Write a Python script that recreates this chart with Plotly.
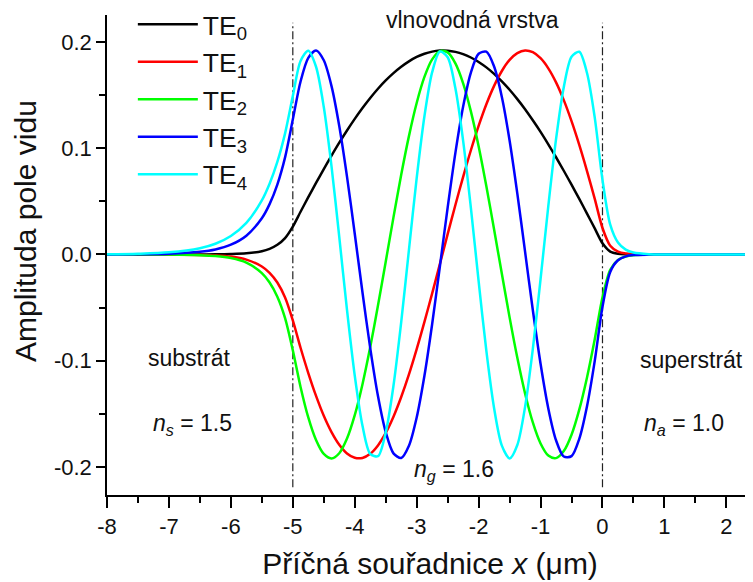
import plotly.graph_objects as go

# x grid (µm): substrate tail, guiding layer (-5..0), superstrate tail
x_pos = [-8, -7.5, -7, -6.5, -6.25, -6, -5.75, -5.5, -5.375, -5.25, -5.125,
         -5.0, -4.875, -4.75, -4.625, -4.5, -4.375, -4.25, -4.125, -4.0, -3.875,
         -3.75, -3.625, -3.5, -3.375, -3.25, -3.125, -3.0, -2.875, -2.75, -2.625,
         -2.5, -2.375, -2.25, -2.125, -2.0, -1.875, -1.75, -1.625, -1.5, -1.375,
         -1.25, -1.125, -1.0, -0.875, -0.75, -0.625, -0.5, -0.375, -0.25, -0.125,
         0.0, 0.125, 0.25, 0.375, 0.5, 0.75, 1.0, 1.5, 2.0, 2.5]

te0 = [0, 0, 0, 0, 0.0001, 0.0004, 0.0011, 0.0031, 0.0053, 0.0091, 0.0154,
       0.0262, 0.0402, 0.0539, 0.0673, 0.0804, 0.0930, 0.1052, 0.1167, 0.1276, 0.1378,
       0.1473, 0.1560, 0.1638, 0.1707, 0.1767, 0.1818, 0.1859, 0.1889, 0.1909, 0.1919,
       0.1918, 0.1907, 0.1886, 0.1854, 0.1812, 0.1761, 0.1700, 0.1629, 0.1550, 0.1462,
       0.1367, 0.1263, 0.1154, 0.1037, 0.0915, 0.0788, 0.0657, 0.0523, 0.0385, 0.0245,
       0.0105, 0.0027, 0.0007, 0.0002, 0, 0, 0, 0, 0, 0]

te1 = [0, 0, -0.0001, -0.0004, -0.0009, -0.0020, -0.0048, -0.0113, -0.0173, -0.0264, -0.0405,
       -0.0620, -0.0878, -0.1116, -0.1331, -0.1518, -0.1672, -0.1791, -0.1873, -0.1914, -0.1915,
       -0.1876, -0.1797, -0.1680, -0.1527, -0.1342, -0.1129, -0.0891, -0.0635, -0.0366, -0.0089,
       0.0191, 0.0466, 0.0731, 0.0981, 0.1210, 0.1414, 0.1587, 0.1727, 0.1831, 0.1895,
       0.1920, 0.1904, 0.1847, 0.1752, 0.1620, 0.1453, 0.1255, 0.1031, 0.0785, 0.0523,
       0.0249, 0.0082, 0.0027, 0.0009, 0.0003, 0, 0, 0, 0, 0]

te2 = [0, 0, -0.0001, -0.0007, -0.0015, -0.0034, -0.0077, -0.0175, -0.0264, -0.0397, -0.0599,
       -0.0902, -0.1247, -0.1534, -0.1747, -0.1878, -0.1920, -0.1871, -0.1733, -0.1513, -0.1221,
       -0.0872, -0.0481, -0.0068, 0.0349, 0.0750, 0.1114, 0.1426, 0.1671, 0.1836, 0.1914,
       0.1902, 0.1799, 0.1611, 0.1347, 0.1019, 0.0642, 0.0235, -0.0182, -0.0592, -0.0973,
       -0.1308, -0.1581, -0.1779, -0.1893, -0.1917, -0.1851, -0.1697, -0.1461, -0.1158, -0.0799,
       -0.0402, -0.0145, -0.0052, -0.0019, -0.0007, -0.0001, 0, 0, 0, 0]

te3 = [0, 0.0002, 0.0007, 0.0025, 0.0047, 0.0092, 0.0177, 0.0341, 0.0474, 0.0658, 0.0914,
       0.1270, 0.1628, 0.1851, 0.1920, 0.1828, 0.1585, 0.1209, 0.0733, 0.0195, -0.0358,
       -0.0882, -0.1333, -0.1672, -0.1872, -0.1916, -0.1801, -0.1535, -0.1142, -0.0654, -0.0111,
       0.0441, 0.0956, 0.1392, 0.1712, 0.1889, 0.1909, 0.1769, 0.1483, 0.1073, 0.0573,
       0.0026, -0.0523, -0.1029, -0.1449, -0.1749, -0.1902, -0.1898, -0.1735, -0.1428, -0.1001,
       -0.0492, -0.0164, -0.0055, -0.0018, -0.0006, -0.0001, 0, 0, 0, 0]

te4 = [0.0002, 0.0007, 0.0020, 0.0059, 0.0101, 0.0174, 0.0297, 0.0509, 0.0666, 0.0871, 0.1140,
       0.1491, 0.1822, 0.1918, 0.1767, 0.1388, 0.0830, 0.0165, -0.0522, -0.1141, -0.1613,
       -0.1877, -0.1899, -0.1676, -0.1236, -0.0637, 0.0043, 0.0718, 0.1301, 0.1716, 0.1910,
       0.1857, 0.1564, 0.1070, 0.0438, -0.0251, -0.0908, -0.1447, -0.1799, -0.1920, -0.1793,
       -0.1435, -0.0891, -0.0233, 0.0455, 0.1085, 0.1575, 0.1861, 0.1908, 0.1708, 0.1288,
       0.0702, 0.0280, 0.0112, 0.0045, 0.0018, 0.0003, 0, 0, 0, 0]

series_names = ["TE<sub>0</sub>", "TE<sub>1</sub>", "TE<sub>2</sub>", "TE<sub>3</sub>", "TE<sub>4</sub>"]
series_values = [te0, te1, te2, te3, te4]
series_colors = ["#000000", "#ff0000", "#00ff00", "#0000ff", "#00ffff"]

boundaries = [-5, 0]
boundary_span = [-0.219, 0.218]

x_ticks = [-8, -7, -6, -5, -4, -3, -2, -1, 0, 1, 2]
x_tick_text = ["-8", "-7", "-6", "-5", "-4", "-3", "-2", "-1", "0", "1", "2"]
y_ticks = [-0.2, -0.1, 0.0, 0.1, 0.2]
y_tick_text = ["-0.2", "-0.1", "0.0", "0.1", "0.2"]

FONT = "Liberation Sans, Arial, sans-serif"

fig = go.Figure()
for name, vals, col in zip(series_names, series_values, series_colors):
    fig.add_trace(go.Scatter(x=x_pos, y=vals, mode="lines", name=name,
                             line=dict(color=col, width=2.5, shape="spline", smoothing=0.8)))

for b in boundaries:
    fig.add_shape(type="line", xref="x", yref="y", x0=b, x1=b,
                  y0=boundary_span[0], y1=boundary_span[1],
                  line=dict(color="#222222", width=1.2, dash="8px,3px,2px,3px"), layer="below")

annots = [
    dict(x=-2.1, y=0.221, text="vlnovodná vrstva"),
    dict(x=-6.67, y=-0.0974, text="substrát"),
    dict(x=-6.62, y=-0.1596, text="<i>n</i><sub><i>s</i></sub> = 1.5"),
    dict(x=-2.39, y=-0.203, text="<i>n</i><sub><i>g</i></sub> = 1.6"),
    dict(x=1.43, y=-0.099, text="superstrát"),
    dict(x=1.32, y=-0.1596, text="<i>n</i><sub><i>a</i></sub> = 1.0"),
]
for a in annots:
    fig.add_annotation(x=a["x"], y=a["y"], text=a["text"], showarrow=False,
                       xref="x", yref="y", xanchor="center", yanchor="middle",
                       font=dict(family=FONT, size=23, color="#111111"))

# y-axis title (placed slightly above the axis centre, as in the original)
fig.add_annotation(x=-0.1254, y=0.55, xref="paper", yref="paper", text="Amplituda pole vidu",
                   textangle=-90, showarrow=False, xanchor="center", yanchor="middle",
                   font=dict(family=FONT, size=30, color="#111111"))

fig.update_layout(
    width=753, height=582,
    margin=dict(l=99, r=8, t=7, b=95, autoexpand=False),
    paper_bgcolor="white", plot_bgcolor="white",
    font=dict(family=FONT, size=22, color="#111111"),
    legend=dict(x=0.04, y=1.03, xanchor="left", yanchor="top",
                bgcolor="rgba(0,0,0,0)", font=dict(family=FONT, size=26.5),
                tracegroupgap=0, itemwidth=60),
    showlegend=True,
)
fig.update_xaxes(range=[-8, 2.43], tickvals=x_ticks, ticktext=x_tick_text,
                 showline=True, linecolor="black", linewidth=1.5, mirror=False,
                 ticks="outside", ticklen=11, tickwidth=1.5, tickcolor="black",
                 minor=dict(ticks="outside", ticklen=6, tickwidth=1.5, dtick=0.5, tickcolor="black"),
                 showgrid=False, zeroline=False, automargin=False,
                 tickfont=dict(family=FONT, size=22),
                 title=dict(text="Příčná souřadnice <i>x</i> (μm)", font=dict(family=FONT, size=30), standoff=15))
fig.update_yaxes(range=[-0.2264, 0.2254], tickvals=y_ticks, ticktext=y_tick_text,
                 showline=True, linecolor="black", linewidth=1.5, mirror=False,
                 ticks="outside", ticklen=9, tickwidth=1.5, tickcolor="black",
                 minor=dict(ticks="outside", ticklen=6, tickwidth=1.5, dtick=0.05, tickcolor="black"),
                 showgrid=False, zeroline=False, automargin=False,
                 tickfont=dict(family=FONT, size=22))

fig.write_html("out.html")
